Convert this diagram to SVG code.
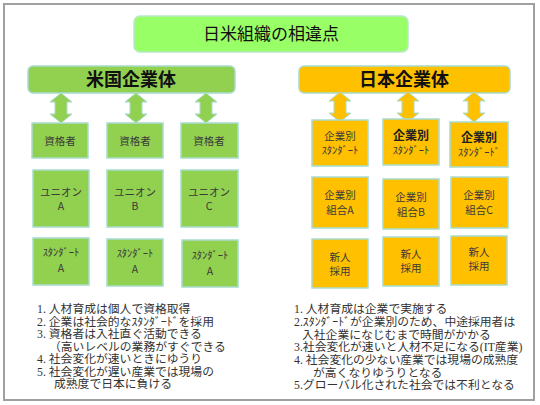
<svg xmlns="http://www.w3.org/2000/svg" xmlns:xlink="http://www.w3.org/1999/xlink" width="540" height="405" viewBox="0 0 540 405">
<style>
text{font-family:"Noto Sans CJK JP","Noto Sans",sans-serif;fill:#333}
.frame{fill:#fff;stroke:#a0a0a0;stroke-width:2}
.title{fill:#99ff66;stroke:#b8e8c8;stroke-width:1.5}
.ghead{fill:#92d050;stroke:#a8dccf;stroke-width:1.5}
.ohead{fill:#ffc000;stroke:#a8dccf;stroke-width:1.5}
.gbox{fill:#92d050;stroke:#a8dccf;stroke-width:1.5}
.obox{fill:#ffc000;stroke:#a8dccf;stroke-width:1.5}
.garr{fill:#92d050;stroke:#a8dccf;stroke-width:1}
.oarr{fill:#ffc000;stroke:#a8dccf;stroke-width:1}
.t1{font-size:17px;text-anchor:middle;fill:#111}
.t2{font-size:18px;font-weight:bold;text-anchor:middle;fill:#111}
.bt{font-size:10.5px;text-anchor:middle;fill:#3a3a3a}
.bb{font-size:12px;font-weight:bold;text-anchor:middle;fill:#222}
.lt{font-family:"Liberation Serif","Noto Sans CJK JP",serif;font-size:11.8px;fill:#333}
</style>
<defs>
<path id="arr" d="M0,0 L11,9 L6,9 L6,21 L11,21 L0,30 L-11,21 L-6,21 L-6,9 L-11,9 Z"/>
</defs>
<rect class="frame" x="4" y="4" width="530" height="396"/>
<g id="title">
<rect class="title" x="134" y="16" width="274" height="36" rx="6"/>
<text class="t1" x="271" y="40">日米組織の相違点</text>
</g>
<g id="us-header">
<rect class="ghead" x="28" y="66" width="207" height="27" rx="5"/>
<text class="t2" x="131" y="86">米国企業体</text>
</g>
<g id="jp-header">
<rect class="ohead" x="299" y="66" width="211" height="27" rx="5"/>
<text class="t2" x="404" y="86">日本企業体</text>
</g>
<g id="connectors">
<use xlink:href="#arr" class="garr" x="61" y="93"/>
<use xlink:href="#arr" class="garr" x="136" y="93"/>
<use xlink:href="#arr" class="garr" x="206" y="93"/>
<use xlink:href="#arr" class="oarr" x="340" y="92"/>
<use xlink:href="#arr" class="oarr" x="408" y="92"/>
<use xlink:href="#arr" class="oarr" x="474" y="92"/>
</g>
<g id="us-q1"><rect class="gbox" x="32" y="123" width="56" height="35"/><text class="bt" x="60" y="145">資格者</text></g>
<g id="us-q2"><rect class="gbox" x="107" y="123" width="56" height="35"/><text class="bt" x="135" y="145">資格者</text></g>
<g id="us-q3"><rect class="gbox" x="181" y="123" width="57" height="35"/><text class="bt" x="209" y="145">資格者</text></g>
<g id="us-u1"><rect class="gbox" x="33" y="170" width="56" height="57"/><text class="bt" x="61" y="196">ユニオン</text><text class="bt" x="61" y="210">A</text></g>
<g id="us-u2"><rect class="gbox" x="107" y="170" width="56" height="57"/><text class="bt" x="135" y="196">ユニオン</text><text class="bt" x="135" y="210">B</text></g>
<g id="us-u3"><rect class="gbox" x="181" y="170" width="57" height="57"/><text class="bt" x="209" y="196">ユニオン</text><text class="bt" x="209" y="210">C</text></g>
<g id="us-s1"><rect class="gbox" x="33" y="238" width="56" height="47"/><text class="bt" x="61" y="256">ｽﾀﾝﾀﾞｰﾄ</text><text class="bt" x="61" y="272">A</text></g>
<g id="us-s2"><rect class="gbox" x="107" y="239" width="56" height="47"/><text class="bt" x="135" y="257">ｽﾀﾝﾀﾞｰﾄ</text><text class="bt" x="135" y="273">A</text></g>
<g id="us-s3"><rect class="gbox" x="182" y="240" width="56" height="47"/><text class="bt" x="210" y="259">ｽﾀﾝﾀﾞｰﾄ</text><text class="bt" x="210" y="275">A</text></g>
<g id="jp-s1"><rect class="obox" x="312" y="120" width="56" height="46"/><text class="bt" x="340" y="140">企業別</text><text class="bt" x="340" y="154">ｽﾀﾝﾀﾞｰﾄ</text></g>
<g id="jp-s2"><rect class="obox" x="383" y="119" width="56" height="46"/><text class="bb" x="411" y="140">企業別</text><text class="bt" x="411" y="154">ｽﾀﾝﾀﾞｰﾄ</text></g>
<g id="jp-s3"><rect class="obox" x="450" y="122" width="58" height="45"/><text class="bb" x="479" y="142">企業別</text><text class="bt" x="479" y="156">ｽﾀﾝﾀﾞｰﾄﾞ</text></g>
<g id="jp-u1"><rect class="obox" x="312" y="177" width="56" height="51"/><text class="bt" x="340" y="199">企業別</text><text class="bt" x="340" y="214">組合A</text></g>
<g id="jp-u2"><rect class="obox" x="383" y="179" width="56" height="50"/><text class="bt" x="411" y="201">企業別</text><text class="bt" x="411" y="216">組合B</text></g>
<g id="jp-u3"><rect class="obox" x="451" y="177" width="57" height="51"/><text class="bt" x="479" y="199">企業別</text><text class="bt" x="479" y="214">組合C</text></g>
<g id="jp-n1"><rect class="obox" x="312" y="239" width="56" height="49"/><text class="bt" x="340" y="261">新人</text><text class="bt" x="340" y="275">採用</text></g>
<g id="jp-n2"><rect class="obox" x="383" y="237" width="56" height="49"/><text class="bt" x="411" y="258">新人</text><text class="bt" x="411" y="272">採用</text></g>
<g id="jp-n3"><rect class="obox" x="451" y="236" width="56" height="49"/><text class="bt" x="479" y="256">新人</text><text class="bt" x="479" y="270">採用</text></g>
<g id="us-notes">
<text class="lt" x="37" y="313">1. 人材育成は個人で資格取得</text>
<text class="lt" x="37" y="325.5">2. 企業は社会的なｽﾀﾝﾀﾞｰﾄﾞを採用</text>
<text class="lt" x="37" y="338">3. 資格者は入社直ぐ活動できる</text>
<text class="lt" x="49" y="350.5">（高いレベルの業務がすぐできる</text>
<text class="lt" x="37" y="363">4. 社会変化が速いときにゆうり</text>
<text class="lt" x="37" y="375.5">5. 社会変化が遅い産業では現場の</text>
<text class="lt" x="54" y="388">成熟度で日本に負ける</text>
</g>
<g id="jp-notes">
<text class="lt" x="294" y="313">1. 人材育成は企業で実施する</text>
<text class="lt" x="294" y="326">2.ｽﾀﾝﾀﾞｰﾄﾞが企業別のため、中途採用者は</text>
<text class="lt" x="302" y="338.5">入社企業になじむまで時間がかかる</text>
<text class="lt" x="294" y="351">3.社会変化が速いと人材不足になる(IT産業)</text>
<text class="lt" x="294" y="364">4. 社会変化の少ない産業では現場の成熟度</text>
<text class="lt" x="313" y="376.5">が高くなりゆうりとなる</text>
<text class="lt" x="294" y="389">5.グローバル化された社会では不利となる</text>
</g>
</svg>
